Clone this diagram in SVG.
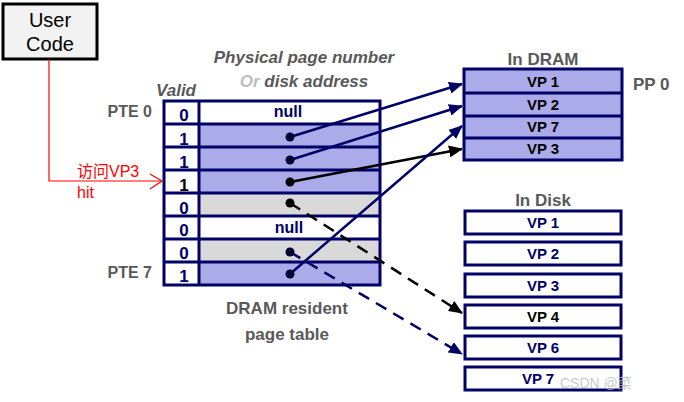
<svg xmlns="http://www.w3.org/2000/svg" width="684" height="402" viewBox="0 0 684 402">
<defs>
<style>
.lbl{font-family:"Liberation Sans",Arial,sans-serif;font-weight:bold;fill:#595959}
.it{font-style:italic}
.nv{font-family:"Liberation Sans",Arial,sans-serif;font-weight:bold;fill:#000066}
.bk{font-family:"Liberation Sans",Arial,sans-serif;font-weight:bold;fill:#000000}
.box{stroke:#000066;stroke-width:3}
.lav{fill:#ababe9}
.gry{fill:#d9d9d9}
.wht{fill:#ffffff}
.sep{stroke:#000066;stroke-width:3}
.ln{fill:none;stroke-width:2.5}
.dot{fill:#000033}
</style>
<marker id="ahN" markerUnits="userSpaceOnUse" markerWidth="14" markerHeight="12" refX="13" refY="6" orient="auto"><path d="M0,0 L14,6 L0,12 Z" fill="#000066"/></marker>
<marker id="ahK" markerUnits="userSpaceOnUse" markerWidth="14" markerHeight="12" refX="13" refY="6" orient="auto"><path d="M0,0 L14,6 L0,12 Z" fill="#000000"/></marker>
</defs>
<rect width="684" height="402" fill="#ffffff"/>

<g id="user-code">
<rect x="3" y="4" width="94" height="55" fill="#f2f2f2" stroke="#000" stroke-width="3"/>
<text x="50" y="27" font-family="Liberation Sans,Arial,sans-serif" font-size="20" text-anchor="middle">User</text>
<text x="50" y="51" font-family="Liberation Sans,Arial,sans-serif" font-size="20" text-anchor="middle">Code</text>
</g>

<g id="labels">
<text class="lbl it" x="304" y="63" font-size="17" text-anchor="middle">Physical page number</text>
<text class="lbl it" x="304" y="87" font-size="17" text-anchor="middle"><tspan fill="#bfbfbf">Or</tspan> disk address</text>
<text class="lbl it" x="176" y="96" font-size="17" text-anchor="middle">Valid</text>
<text class="lbl" x="152" y="117" font-size="16" text-anchor="end">PTE 0</text>
<text class="lbl" x="152" y="278" font-size="16" text-anchor="end">PTE 7</text>
<text class="lbl" x="287" y="314" font-size="17" text-anchor="middle">DRAM resident</text>
<text class="lbl" x="287" y="340" font-size="17" text-anchor="middle">page table</text>
<text class="lbl" x="543" y="65" font-size="17" text-anchor="middle">In DRAM</text>
<text class="lbl" x="633" y="90" font-size="17">PP 0</text>
<text class="lbl" x="543" y="206" font-size="17" text-anchor="middle">In Disk</text>
</g>

<g id="page-table">
<rect class="wht" x="199" y="101" width="181" height="23"/>
<rect class="lav" x="199" y="124" width="181" height="69"/>
<rect class="gry" x="199" y="193" width="181" height="23"/>
<rect class="wht" x="199" y="216" width="181" height="23"/>
<rect class="gry" x="199" y="239" width="181" height="23"/>
<rect class="lav" x="199" y="262" width="181" height="23"/>
<g class="sep">
<line x1="164" y1="124" x2="380" y2="124"/>
<line x1="164" y1="147" x2="380" y2="147"/>
<line x1="164" y1="170" x2="380" y2="170"/>
<line x1="164" y1="193" x2="380" y2="193"/>
<line x1="164" y1="216" x2="380" y2="216"/>
<line x1="164" y1="239" x2="380" y2="239"/>
<line x1="164" y1="262" x2="380" y2="262"/>
<line x1="199" y1="101" x2="199" y2="285"/>
</g>
<rect x="164" y="101" width="216" height="184" fill="none" class="box"/>
<g font-size="17" text-anchor="middle">
<text class="nv" x="184" y="121">0</text>
<text class="nv" x="184" y="145">1</text>
<text class="nv" x="184" y="168">1</text>
<text class="bk" x="184" y="191">1</text>
<text class="nv" x="184" y="214">0</text>
<text class="nv" x="184" y="236">0</text>
<text class="nv" x="184" y="259">0</text>
<text class="nv" x="184" y="282">1</text>
</g>
<g font-size="16" text-anchor="middle">
<text class="nv" x="288" y="117">null</text>
<text class="nv" x="289" y="233">null</text>
</g>
</g>

<g id="dram">
<rect class="lav" x="464" y="69" width="158" height="91"/>
<g class="sep">
<line x1="464" y1="93" x2="622" y2="93"/>
<line x1="464" y1="116" x2="622" y2="116"/>
<line x1="464" y1="138" x2="622" y2="138"/>
</g>
<rect x="464" y="69" width="158" height="91" fill="none" class="box"/>
<g font-size="15" text-anchor="middle">
<text class="bk" x="543" y="87">VP 1</text>
<text class="bk" x="543" y="110">VP 2</text>
<text class="bk" x="543" y="132">VP 7</text>
<text class="bk" x="543" y="154">VP 3</text>
</g>
</g>

<g id="disk">
<g fill="#ffffff" class="box">
<rect x="465" y="211" width="156" height="23"/>
<rect x="465" y="242" width="156" height="23"/>
<rect x="465" y="274" width="156" height="23"/>
<rect x="465" y="305" width="156" height="23"/>
<rect x="465" y="336" width="156" height="23"/>
<rect x="465" y="367" width="156" height="23"/>
</g>
<g font-size="15" text-anchor="middle">
<text class="nv" x="543" y="228">VP 1</text>
<text class="nv" x="543" y="259">VP 2</text>
<text class="nv" x="543" y="291">VP 3</text>
<text class="bk" x="543" y="322">VP 4</text>
<text class="nv" x="543" y="353">VP 6</text>
<text class="nv" x="538" y="384">VP 7</text>
</g>
</g>

<g id="connectors">
<line class="ln" stroke="#000066" x1="290" y1="137" x2="462" y2="84" marker-end="url(#ahN)"/>
<line class="ln" stroke="#000066" x1="290" y1="160" x2="462" y2="106" marker-end="url(#ahN)"/>
<line class="ln" stroke="#000000" x1="290" y1="182" x2="462" y2="149" marker-end="url(#ahK)"/>
<line class="ln" stroke="#000066" x1="290" y1="274" x2="462" y2="126" marker-end="url(#ahN)"/>
<line class="ln" stroke="#000000" stroke-width="3" stroke-dasharray="12,8" x1="290" y1="203" x2="462" y2="313" marker-end="url(#ahK)"/>
<line class="ln" stroke="#000066" stroke-width="3" stroke-dasharray="12,8" x1="290" y1="252" x2="462" y2="354" marker-end="url(#ahN)"/>
<g class="dot">
<circle cx="290" cy="137" r="4.5"/>
<circle cx="290" cy="160" r="4.5"/>
<circle cx="290" cy="182" r="4.5" fill="#000"/>
<circle cx="290" cy="203" r="4.5" fill="#000"/>
<circle cx="290" cy="252" r="4.5"/>
<circle cx="290" cy="274" r="4.5"/>
</g>
<polyline points="49,59 49,181 162,181" fill="none" stroke="#ff0000" stroke-width="1.2"/>
<polyline points="150,174 162,181 150,189" fill="none" stroke="#ff0000" stroke-width="1.2"/>
</g>

<g id="access-label" font-family="Liberation Sans,'Noto Sans CJK SC',sans-serif" font-size="16" fill="#ff0000">
<text x="77" y="177">访问VP3</text>
<text x="77" y="198">hit</text>
</g>

<text x="560" y="388" font-family="Liberation Sans,'Noto Sans CJK SC',sans-serif" font-size="14" fill="#bbbbbb" fill-opacity="0.8">CSDN @菜</text>
</svg>
